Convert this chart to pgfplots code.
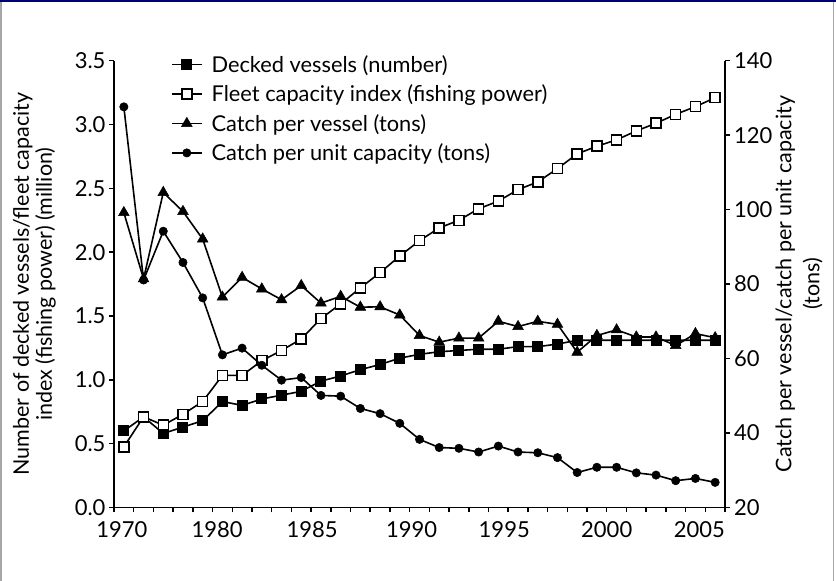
\documentclass[border=0pt]{standalone}
\usepackage{pgfplots}
\pgfplotsset{compat=1.18}
\usepackage{fontspec}
\setmainfont{Lato}
\begin{document}
\begin{tikzpicture}
\fill[white] (0pt,0pt) rectangle (836pt,581pt);

\pgfplotsset{
  myax/.style={
   scale only axis, width=611pt, height=446.8pt,
   xmin=-0.5, xmax=30.5,
   tick align=outside, major tick length=5pt, minor tick length=5pt,
   axis line style={line width=1.5pt,-},
   every tick/.style={line width=1.5pt, black},
   tick label style={font=\fontsize{22}{26}\selectfont},
   /pgf/number format/assume math mode=true,
   clip=false,
  },
  every axis plot/.append style={line width=1.6pt, black},
  sq/.style={mark=square*, mark size=5pt, mark options={fill=black, solid, line width=1pt}},
  osq/.style={mark=square*, mark size=5pt, mark options={fill=white, solid, line width=1.5pt}},
  tri/.style={mark=triangle*, mark size=6.2pt, mark options={fill=black, solid, line width=0.5pt}},
  circ/.style={mark=*, mark size=4.2pt, mark options={fill=black, solid, line width=0.5pt}},
}

\begin{axis}[myax, name=a1, at={(114pt,73.5pt)}, anchor=south west,
  axis x line*=bottom, axis y line*=left,
  ymin=0, ymax=3.5,
  ytick={0,0.5,1,1.5,2,2.5,3,3.5},
  yticklabels={0.0,0.5,1.0,1.5,2.0,2.5,3.0,3.5},
  yticklabel style={xshift=0pt},
  xtick={-0.5,0.5,...,30.5}, xticklabels={},
  extra x ticks={-0.1,4.73,9.55,14.6,19.3,24.5,29.2},
  extra x tick labels={1970,1980,1985,1990,1995,2000,2005},
  extra x tick style={major tick length=0pt, xticklabel style={yshift=-11pt}},
  ylabel={Number of decked vessels/fleet capacity\\index (fishing power) (million)},
  every axis y label/.append style={font=\fontsize{21.5}{23}\selectfont},
  ylabel style={at={(axis description cs:-0.1301,0.5)}, anchor=center, align=center},
]
% Decked vessels (number)
\addplot[sq] coordinates {
(0,0.60) (1,0.71) (2,0.58) (3,0.63) (4,0.68) (5,0.83) (6,0.80) (7,0.85)
(8,0.88) (9,0.91) (10,0.99) (11,1.03) (12,1.08) (13,1.12) (14,1.17) (15,1.20)
(16,1.22) (17,1.23) (18,1.24) (19,1.24) (20,1.26) (21,1.26) (22,1.28) (23,1.31)
(24,1.31) (25,1.31) (26,1.31) (27,1.31) (28,1.31) (29,1.31) (30,1.31)};
% Fleet capacity index (fishing power)
\addplot[osq] coordinates {
(0,0.475) (1,0.71) (2,0.645) (3,0.73) (4,0.83) (5,1.035) (6,1.035) (7,1.15)
(8,1.23) (9,1.32) (10,1.48) (11,1.595) (12,1.72) (13,1.84) (14,1.97) (15,2.09)
(16,2.19) (17,2.25) (18,2.34) (19,2.40) (20,2.49) (21,2.55) (22,2.655) (23,2.77)
(24,2.83) (25,2.88) (26,2.95) (27,3.01) (28,3.08) (29,3.14) (30,3.21)};
\end{axis}

\begin{axis}[myax, at={(a1.south west)}, anchor=south west,
  axis x line=none, axis y line*=right,
  ymin=20, ymax=140,
  ytick={20,40,60,80,100,120,140},
  yticklabels={20,40,60,80,100,120,140},
  yticklabel style={xshift=0.5pt},
  ylabel={Catch per vessel/catch per unit capacity\\(tons)},
  every axis y label/.append style={font=\fontsize{21.5}{28}\selectfont},
  ylabel style={at={(axis description cs:1.1211,0.5)}, anchor=center, align=center},
  legend style={at={(axis description cs:0.093,1.0166)}, anchor=north west,
    draw=none, fill=none, inner sep=0pt,
    font=\fontsize{21.8}{25}\selectfont, row sep=7pt, column sep=7pt,
    cells={anchor=west}},
  legend image code/.code={\draw[mark repeat=2,mark phase=2] plot coordinates {(0pt,0pt) (15pt,0pt) (30pt,0pt)};},
]
\addlegendimage{sq}
\addlegendentry{Decked vessels (number)}
\addlegendimage{osq}
\addlegendentry{Fleet capacity index (fishing power)}
% Catch per vessel (tons)
\addplot[tri] coordinates {
(0,99.2) (1,81.4) (2,104.6) (3,99.5) (4,92.1) (5,76.5) (6,81.8) (7,78.7)
(8,75.8) (9,79.6) (10,74.9) (11,76.7) (12,73.8) (13,73.9) (14,71.7) (15,66.2)
(16,64.4) (17,65.5) (18,65.5) (19,70.0) (20,68.6) (21,70.0) (22,69.2) (23,61.7)
(24,66.2) (25,67.7) (26,65.8) (27,65.8) (28,63.5) (29,66.7) (30,65.6)};
\addlegendentry{Catch per vessel (tons)}
% Catch per unit capacity (tons)
\addplot[circ] coordinates {
(0,127.6) (1,81.1) (2,94.2) (3,85.8) (4,76.3) (5,61.0) (6,62.8) (7,58.2)
(8,54.2) (9,54.9) (10,50.1) (11,49.9) (12,46.6) (13,45.2) (14,42.6) (15,38.3)
(16,36.1) (17,35.9) (18,34.9) (19,36.5) (20,34.9) (21,34.7) (22,33.4) (23,29.4)
(24,30.8) (25,30.8) (26,29.3) (27,28.7) (28,27.2) (29,27.8) (30,26.75)};
\addlegendentry{Catch per unit capacity (tons)}
\end{axis}

\draw[gray!70, line width=1.5pt] (0.75pt,0pt) -- (0.75pt,581pt);
\draw[gray!70, line width=1.5pt] (833.5pt,0pt) -- (833.5pt,581pt);
\draw[blue!45!black, line width=2pt] (0pt,580pt) -- (836pt,580pt);
\pgfresetboundingbox
\path[use as bounding box] (0pt,0pt) rectangle (836pt,581pt);
\end{tikzpicture}
\end{document}
